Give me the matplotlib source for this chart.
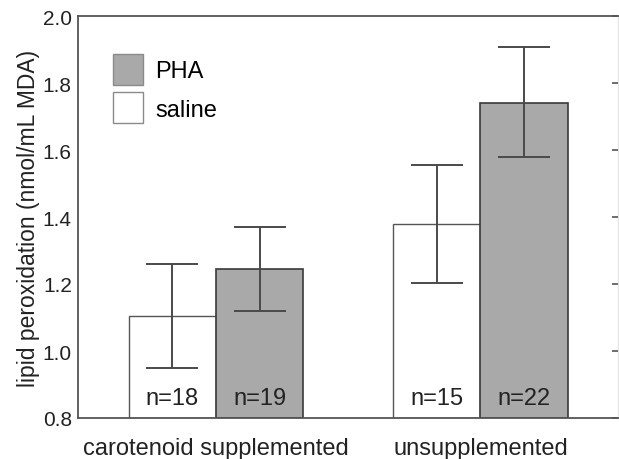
import matplotlib
matplotlib.use("Agg")
import matplotlib.pyplot as plt
from matplotlib.patches import Patch
import numpy as np

plt.rcParams['font.family'] = ['Liberation Sans', 'DejaVu Sans']

groups = ["carotenoid supplemented", "unsupplemented"]
saline_mean = [1.103, 1.380]
saline_err_low = [0.948, 1.204]
saline_err_high = [1.260, 1.556]
saline_n = ["n=18", "n=15"]
pha_mean = [1.245, 1.740]
pha_err_low = [1.118, 1.578]
pha_err_high = [1.370, 1.908]
pha_n = ["n=19", "n=22"]
yticks = [0.8, 1.0, 1.2, 1.4, 1.6, 1.8, 2.0]

fig = plt.figure(figsize=(6.19, 4.60), dpi=100)
ax = fig.add_axes([78/619, 1-419/460, 540/619, 402/460])

x = np.arange(len(groups))
w = 0.33
gray = '#a9a9a9'
edge = '#3a3a3a'
ecol = '#4a4a4a'

sal_x = x - w/2
pha_x = x + w/2
ax.bar(sal_x, np.array(saline_mean) - 0.8, w, bottom=0.8, color='white',
       edgecolor='#555555', linewidth=1.0, zorder=2)
ax.bar(pha_x, np.array(pha_mean) - 0.8, w, bottom=0.8, color=gray,
       edgecolor=edge, linewidth=1.2, zorder=2)

for xs, m, lo, hi in [(sal_x, saline_mean, saline_err_low, saline_err_high),
                      (pha_x, pha_mean, pha_err_low, pha_err_high)]:
    m = np.array(m)
    yerr = np.vstack([m - np.array(lo), np.array(hi) - m])
    ax.errorbar(xs, m, yerr=yerr, fmt='none', ecolor=ecol, elinewidth=1.4,
                capsize=19, capthick=1.4, zorder=3)

for xs, labs in [(sal_x, saline_n), (pha_x, pha_n)]:
    for xi, lab in zip(xs, labs):
        ax.text(xi, 0.842, lab, ha='center', va='baseline', fontsize=17,
                color='#222222', zorder=4)

ax.set_xlim(-0.522, 1.520)
ax.set_ylim(0.8, 2.0)
ax.set_yticks(yticks)
ax.set_yticklabels([f"{t:.1f}" for t in yticks], fontsize=15, color='#222222')
ax.set_xticks(x)
ax.set_xticklabels(groups, fontsize=17, color='#222222')
ax.tick_params(axis='x', length=0, pad=14)
ax.tick_params(axis='y', which='both', left=True, length=0, pad=4.5)
# right-side inward ticks
ax2 = ax.twinx()
ax2.set_ylim(0.8, 2.0)
ax2.set_yticks(yticks)
ax2.set_yticklabels([])
ax2.tick_params(axis='y', direction='in', length=4, width=1.2, color='#555555')
for s in ax2.spines.values():
    s.set_visible(False)

ax.set_ylabel("lipid peroxidation (nmol/mL MDA)", fontsize=16.5, color='#222222',
              labelpad=2)

for side in ['left', 'top', 'bottom']:
    ax.spines[side].set_color('#555555')
    ax.spines[side].set_linewidth(1.3)
ax.spines['right'].set_color('#e4e4e4')
ax.spines['right'].set_linewidth(1.0)

handles = [Patch(facecolor=gray, edgecolor='#8a8a8a', linewidth=1.0, label='PHA'),
           Patch(facecolor='white', edgecolor='#8a8a8a', linewidth=1.0, label='saline')]
ax.legend(handles=handles, loc='upper left', bbox_to_anchor=(0.0648, 0.905),
          frameon=False, fontsize=17, handlelength=1.28, handleheight=1.65,
          handletextpad=0.5, labelspacing=0.3, borderpad=0, borderaxespad=0)

fig.savefig("out.png", dpi=100)
